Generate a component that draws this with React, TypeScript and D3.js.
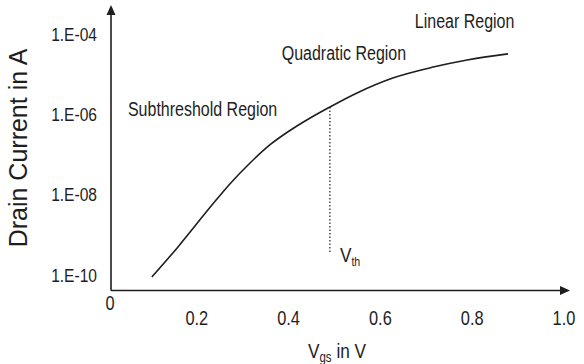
import React from "react";
import * as d3 from "d3";

// Vgs (V) and drain current (A)
const vgs = [0.102, 0.159, 0.233, 0.272, 0.316, 0.359, 0.403, 0.447, 0.49, 0.549, 0.627, 0.715, 0.789, 0.878];
const drainCurrent = [
  8.9e-11, 5.0e-10, 5.5e-9, 1.85e-8, 6.15e-8, 1.73e-7, 3.96e-7, 8.1e-7, 1.52e-6, 3.4e-6, 8.0e-6, 1.5e-5,
  2.25e-5, 3.2e-5,
];

const xTicks = [0.2, 0.4, 0.6, 0.8, 1.0];
const xTickLabels = ["0.2", "0.4", "0.6", "0.8", "1.0"];
const yTicks = [1e-10, 1e-8, 1e-6, 1e-4];
const yTickLabels = ["1.E-10", "1.E-08", "1.E-06", "1.E-04"];

const vth = 0.49;
const vthBottom = 3.5e-10;

const regions = [
  { label: "Subthreshold Region", v: 0.05, i: 1.3e-6 },
  { label: "Quadratic Region", v: 0.385, i: 3.3e-5 },
  { label: "Linear Region", v: 0.675, i: 2.0e-4 },
];

const W = 584;
const H = 364;
const ink = "#1e1e1e";
const font = "'Liberation Sans', Arial, sans-serif";
const squeeze = 0.82; // condensed look of the original lettering

type NarrowProps = {
  x: number;
  y: number;
  size: number;
  anchor?: "start" | "middle" | "end";
  baseline?: string;
  children: React.ReactNode;
};

function Narrow({ x, y, size, anchor = "start", baseline, children }: NarrowProps) {
  return (
    <text
      transform={`translate(${x},${y}) scale(${squeeze},1)`}
      textAnchor={anchor}
      dominantBaseline={baseline}
      fontFamily={font}
      fontSize={size}
      fill={ink}
    >
      {children}
    </text>
  );
}

export default function App() {
  const x = d3.scaleLinear().domain([0, 1]).range([105, 564]);
  const y = d3.scaleLog().domain([1e-10, 1e-4]).range([275, 34]);

  const originX = 111;
  const originY = 290.5;

  const pts = vgs.map((v, k) => [v, drainCurrent[k]] as [number, number]);
  const line = d3
    .line<[number, number]>()
    .x((d) => x(d[0]))
    .y((d) => y(d[1]))
    .curve(d3.curveMonotoneX);

  const vthCurrent = drainCurrent[vgs.indexOf(vth)];

  return (
    <svg
      width={W}
      height={H}
      style={{ position: "absolute", left: 0, top: 0, background: "#fff" }}
    >
      {/* axes */}
      <line x1={originX} y1={originY} x2={originX} y2={14} stroke={ink} strokeWidth={1.6} />
      <path d={`M${originX},5 L${originX - 4.5},15 L${originX + 4.5},15 Z`} fill={ink} />
      <line x1={originX} y1={originY} x2={560} y2={originY} stroke={ink} strokeWidth={1.6} />
      <path d={`M570,${originY} L560,${originY - 4.5} L560,${originY + 4.5} Z`} fill={ink} />

      {/* y tick labels */}
      {yTicks.map((t, k) => (
        <Narrow key={t} x={97} y={y(t)} size={19} anchor="end" baseline="central">
          {yTickLabels[k]}
        </Narrow>
      ))}

      {/* x tick labels */}
      <Narrow x={110} y={310} size={20} anchor="middle">
        0
      </Narrow>
      {xTicks.map((t, k) => (
        <Narrow key={t} x={x(t)} y={325} size={20} anchor="middle">
          {xTickLabels[k]}
        </Narrow>
      ))}

      {/* curve */}
      <path d={line(pts) || ""} fill="none" stroke={ink} strokeWidth={1.6} />

      {/* threshold marker */}
      <line
        x1={x(vth)}
        x2={x(vth)}
        y1={y(vthCurrent)}
        y2={y(vthBottom)}
        stroke={ink}
        strokeWidth={1.2}
        strokeDasharray="1.5,2"
      />
      <Narrow x={x(vth) + 10} y={262} size={21}>
        V
        <tspan fontSize={13} dy={4}>
          th
        </tspan>
      </Narrow>

      {/* region labels */}
      {regions.map((r) => (
        <Narrow key={r.label} x={x(r.v)} y={y(r.i)} size={19.5} baseline="central">
          {r.label}
        </Narrow>
      ))}

      {/* axis titles */}
      <text
        transform="translate(27,148) rotate(-90)"
        textAnchor="middle"
        fontFamily={font}
        fontSize={25}
        fill={ink}
      >
        Drain Current in A
      </text>
      <Narrow x={308} y={358} size={21}>
        V
        <tspan fontSize={14} dy={4}>
          gs
        </tspan>
        <tspan dy={-4}> in V</tspan>
      </Narrow>
    </svg>
  );
}
